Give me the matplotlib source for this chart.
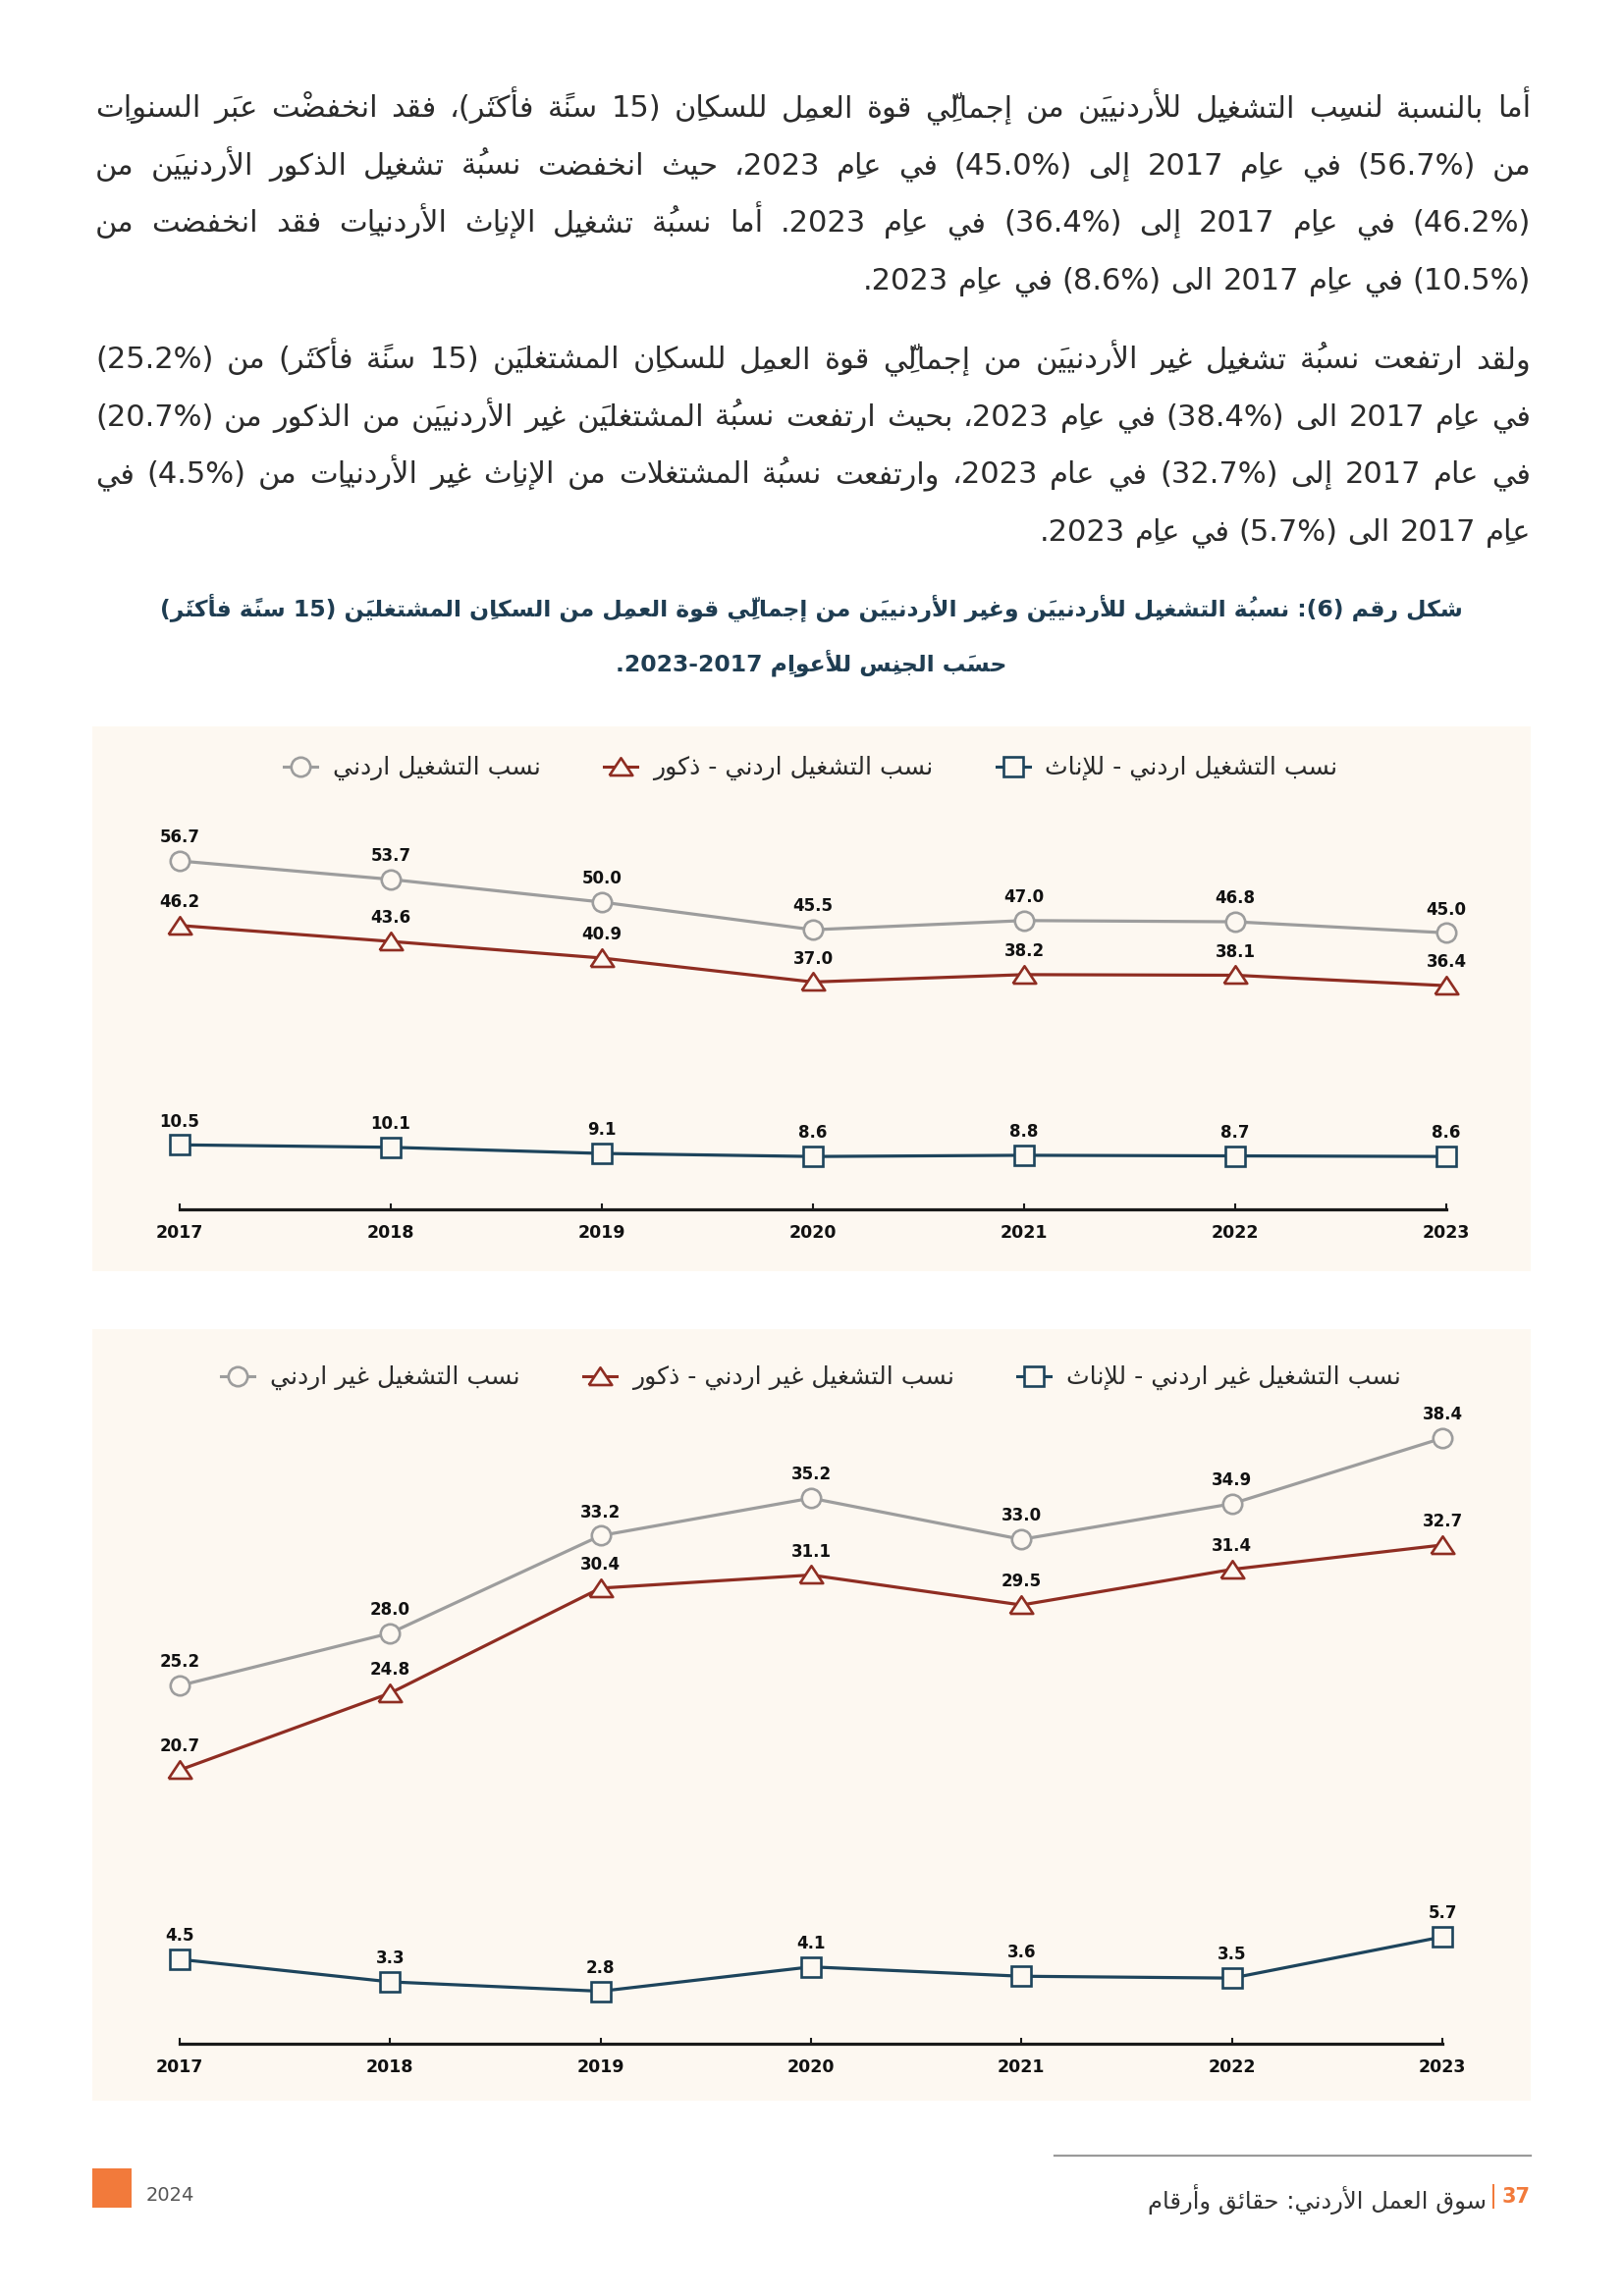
import matplotlib
matplotlib.use('Agg')
import matplotlib.pyplot as plt
from matplotlib.lines import Line2D
from matplotlib.patches import Rectangle

plt.rcParams['font.family'] = ['DejaVu Sans']

W, H = 1654, 2339

# ---------------- data ----------------
years = [2017, 2018, 2019, 2020, 2021, 2022, 2023]
jo_total = [56.7, 53.7, 50.0, 45.5, 47.0, 46.8, 45.0]
jo_male = [46.2, 43.6, 40.9, 37.0, 38.2, 38.1, 36.4]
jo_female = [10.5, 10.1, 9.1, 8.6, 8.8, 8.7, 8.6]
nj_total = [25.2, 28.0, 33.2, 35.2, 33.0, 34.9, 38.4]
nj_male = [20.7, 24.8, 30.4, 31.1, 29.5, 31.4, 32.7]
nj_female = [4.5, 3.3, 2.8, 4.1, 3.6, 3.5, 5.7]

legend_jo = ['نسب التشغيل اردني', 'نسب التشغيل اردني - ذكور', 'نسب التشغيل اردني - للإناث']
legend_nj = ['نسب التشغيل غير اردني', 'نسب التشغيل غير اردني - ذكور', 'نسب التشغيل غير اردني - للإناث']

par1 = [
    'أما بالنسبة لنسبِ التشغيلِ للأردنيينَ من إجماليِّ قوةِ العملِ للسكانِ (15 سنةً فأكثرَ)، فقد انخفضتْ عبرَ السنواتِ',
    'من (56.7%) في عامِ 2017 إلى (45.0%) في عامِ 2023، حيث انخفضت نسبةُ تشغيلِ الذكورِ الأردنيينَ من',
    '(46.2%) في عامِ 2017 إلى (36.4%) في عامِ 2023. أما نسبةُ تشغيلِ الإناثِ الأردنياتِ فقد انخفضت من',
    '(10.5%) في عامِ 2017 الى (8.6%) في عامِ 2023.',
]
par2 = [
    'ولقد ارتفعت نسبةُ تشغيلِ غيرِ الأردنيينَ من إجماليِّ قوةِ العملِ للسكانِ المشتغلينَ (15 سنةً فأكثرَ) من (25.2%)',
    'في عامِ 2017 الى (38.4%) في عامِ 2023، بحيث ارتفعت نسبةُ المشتغلينَ غيرِ الأردنيينَ من الذكورِ من (20.7%)',
    'في عام 2017 إلى (32.7%) في عام 2023، وارتفعت نسبةُ المشتغلات من الإناثِ غيرِ الأردنياتِ من (4.5%) في',
    'عامِ 2017 الى (5.7%) في عامِ 2023.',
]
title = [
    'شكل رقم (6): نسبةُ التشغيلِ للأردنيينَ وغيرِ الأردنيينَ من إجماليِّ قوةِ العملِ من السكانِ المشتغلينَ (15 سنةً فأكثرَ)',
    'حسبَ الجنسِ للأعوامِ 2017-2023.',
]
footer_text = 'سوق العمل الأردني: حقائق وأرقام'
footer_page = '37'
footer_year = '2024'

# ---------------- minimal arabic shaping / bidi ----------------
def dual(b):
    return (b, b + 1, b + 2, b + 3)


def right(b):
    return (b, b + 1, None, None)


FORMS = {
    '\u0621': (0xFE80, None, None, None),
    '\u0622': right(0xFE81), '\u0623': right(0xFE83), '\u0624': right(0xFE85),
    '\u0625': right(0xFE87), '\u0626': dual(0xFE89), '\u0627': right(0xFE8D),
    '\u0628': dual(0xFE8F), '\u0629': right(0xFE93), '\u062A': dual(0xFE95),
    '\u062B': dual(0xFE99), '\u062C': dual(0xFE9D), '\u062D': dual(0xFEA1),
    '\u062E': dual(0xFEA5), '\u062F': right(0xFEA9), '\u0630': right(0xFEAB),
    '\u0631': right(0xFEAD), '\u0632': right(0xFEAF), '\u0633': dual(0xFEB1),
    '\u0634': dual(0xFEB5), '\u0635': dual(0xFEB9), '\u0636': dual(0xFEBD),
    '\u0637': dual(0xFEC1), '\u0638': dual(0xFEC5), '\u0639': dual(0xFEC9),
    '\u063A': dual(0xFECD), '\u0641': dual(0xFED1), '\u0642': dual(0xFED5),
    '\u0643': dual(0xFED9), '\u0644': dual(0xFEDD), '\u0645': dual(0xFEE1),
    '\u0646': dual(0xFEE5), '\u0647': dual(0xFEE9), '\u0648': right(0xFEED),
    '\u0649': right(0xFEEF), '\u064A': dual(0xFEF1),
}
LAM_ALEF = {'\u0622': (0xFEF5, 0xFEF6), '\u0623': (0xFEF7, 0xFEF8),
            '\u0625': (0xFEF9, 0xFEFA), '\u0627': (0xFEFB, 0xFEFC)}
MIRROR = {'(': ')', ')': '(', '[': ']', ']': '['}


def is_mark(c):
    return '\u064B' <= c <= '\u0652' or c == '\u0670'


def is_arabic(c):
    return c in FORMS or c == '\u0640' or is_mark(c)


def shape(run):
    clusters = []
    for c in run:
        if is_mark(c) and clusters:
            clusters[-1][1] += c
        else:
            clusters.append([c, ''])
    merged = []
    j = 0
    while j < len(clusters):
        b, m = clusters[j]
        if b == '\u0644' and j + 1 < len(clusters) and clusters[j + 1][0] in LAM_ALEF:
            merged.append(['LA' + clusters[j + 1][0], m + clusters[j + 1][1]])
            j += 2
        else:
            merged.append([b, m])
            j += 1

    def joins_next(b):
        return b == '\u0640' or (b in FORMS and FORMS[b][2] is not None)

    def joinable(b):
        return b == '\u0640' or b in FORMS or b.startswith('LA')

    out = []
    for j, (b, m) in enumerate(merged):
        prev = merged[j - 1][0] if j > 0 else None
        nxt = merged[j + 1][0] if j + 1 < len(merged) else None
        cp = prev is not None and joins_next(prev)
        if b.startswith('LA'):
            g = chr(LAM_ALEF[b[2]][1 if cp else 0])
        elif b in FORMS:
            f = FORMS[b]
            cn = f[2] is not None and nxt is not None and joinable(nxt)
            if cp and cn:
                g = chr(f[3])
            elif cp and f[1]:
                g = chr(f[1])
            elif cn:
                g = chr(f[2])
            else:
                g = chr(f[0])
        else:
            g = b
        out.append(g + m)
    return ''.join(reversed(out))


def visual(token):
    kinds = []
    for i, c in enumerate(token):
        if is_arabic(c):
            kinds.append('A')
        elif c.isdigit():
            kinds.append('N')
        elif c in '.,' and 0 < i < len(token) - 1 and token[i - 1].isdigit() and token[i + 1].isdigit():
            kinds.append('N')
        elif c == '%' and ((i > 0 and token[i - 1].isdigit()) or (i < len(token) - 1 and token[i + 1].isdigit())):
            kinds.append('N')
        else:
            kinds.append('P')
    runs = []
    for c, k in zip(token, kinds):
        if runs and runs[-1][0] == k and k != 'P':
            runs[-1][1] += c
        else:
            runs.append([k, c])
    parts = []
    for k, s in reversed(runs):
        if k == 'A':
            parts.append(shape(s))
        elif k == 'N':
            parts.append(s)
        else:
            parts.append(MIRROR.get(s, s))
    return ''.join(parts)


def vline(text):
    return ' '.join(visual(w) for w in reversed(text.split(' ')))


# ---------------- figure ----------------
fig = plt.figure(figsize=(W / 100, H / 100), dpi=100)
fig.patch.set_facecolor('white')
renderer = fig.canvas.get_renderer()


def tw(s, size, weight='normal'):
    t = fig.text(0, 0, s, fontsize=size, fontweight=weight)
    w = t.get_window_extent(renderer).width
    t.remove()
    return w


def put(x, y, s, **kw):
    return fig.text(x / W, 1 - y / H, s, **kw)


def add_axes(left, top, right, bottom):
    return fig.add_axes([left / W, 1 - bottom / H, (right - left) / W, (bottom - top) / H])


BODY_C = '#2b2b2b'
TITLE_C = '#1f3d52'
PANEL_C = '#fdf8f1'
GREY = '#9d9d9d'
RED = '#8f2d22'
NAVY = '#1d445c'
ORANGE = '#f27a3b'

# ---------------- body paragraphs (justified, right to left) ----------------
L_EDGE, R_EDGE = 97, 1559
LINE = 58.6
all_lines = par1 + par2
base = 20
sz_last = base * 706 / tw(vline(par1[-1]), base)
sz_wide = min(base * (R_EDGE - L_EDGE) / tw(vline(l), base) for l in all_lines)
body_size = min(sz_last, sz_wide * 0.985)
space_w = tw('a a', body_size) - tw('aa', body_size)


def draw_par(lines, y0):
    for i, line in enumerate(lines):
        y = y0 + i * LINE
        vis = [visual(w) for w in line.split(' ')]
        ws = [tw(v, body_size) for v in vis]
        if i == len(lines) - 1:
            gap = space_w
        else:
            gap = (R_EDGE - L_EDGE - sum(ws)) / (len(ws) - 1)
        x = R_EDGE
        for v, w in zip(vis, ws):
            put(x, y, v, ha='right', va='baseline', fontsize=body_size, color=BODY_C)
            x -= w + gap


draw_par(par1, 119)
draw_par(par2, 375)

# ---------------- title ----------------
t_size = 20 * 1325 / tw(vline(title[0]), 20, 'bold')
put(826, 628, vline(title[0]), ha='center', va='baseline', fontsize=t_size,
    fontweight='bold', color=TITLE_C)
put(826, 683, vline(title[1]), ha='center', va='baseline', fontsize=t_size,
    fontweight='bold', color=TITLE_C)

# ---------------- panels ----------------
for top, bottom in [(740, 1295), (1354, 2140)]:
    fig.patches.append(Rectangle((94 / W, 1 - bottom / H), (1559 - 94) / W, (bottom - top) / H,
                                 transform=fig.transFigure, facecolor=PANEL_C,
                                 edgecolor='none', zorder=-5))

tri = [(-1, -0.72), (1, -0.72), (0, 0.78), (-1, -0.72)]
styles = [
    dict(color=GREY, marker='o', markersize=14),
    dict(color=RED, marker=tri, markersize=17),
    dict(color=NAVY, marker='s', markersize=14),
]


def series(ax, vals, st):
    ax.plot(years, vals, color=st['color'], lw=2.3, marker=st['marker'],
            markersize=st['markersize'], markerfacecolor=PANEL_C,
            markeredgecolor=st['color'], markeredgewidth=1.9, clip_on=False, zorder=3)
    for x, v in zip(years, vals):
        ax.annotate(f'{v:.1f}', (x, v), xytext=(0, 13.5), textcoords='offset points',
                    ha='center', va='baseline', fontsize=12, fontweight='bold',
                    color='#111111', annotation_clip=False)


def style_axes(ax):
    ax.set_facecolor('none')
    ax.set_xlim(2017, 2023)
    for s in ['left', 'right', 'top']:
        ax.spines[s].set_visible(False)
    ax.spines['bottom'].set_linewidth(2.3)
    ax.spines['bottom'].set_color('#1a1a1a')
    ax.set_yticks([])
    ax.set_xticks(years)
    ax.set_xticklabels([str(y) for y in years], fontsize=12.5, fontweight='bold',
                       color='#111111')
    ax.tick_params(axis='x', direction='in', length=4, width=1.5, color='#1a1a1a', pad=11)


leg_size = 20 * 298 / tw(vline(legend_jo[2]), 20)


def draw_legend(labels, y):
    handle, hgap, cgap = 34, 16, 64
    widths = [tw(vline(l), leg_size) for l in labels]
    total = sum(widths) + len(labels) * (handle + hgap) + (len(labels) - 1) * cgap
    x = 826 - total / 2
    for lab, w, st in zip(labels, widths, styles):
        fig.lines.append(Line2D([x / W, (x + handle) / W], [1 - y / H, 1 - y / H],
                                transform=fig.transFigure, color=st['color'], lw=2.2))
        fig.lines.append(Line2D([(x + handle / 2) / W], [1 - y / H], transform=fig.transFigure,
                                marker=st['marker'], markersize=st['markersize'],
                                markerfacecolor=PANEL_C, markeredgecolor=st['color'],
                                markeredgewidth=1.9, lw=0))
        put(x + handle + hgap, y + 1, vline(lab), ha='left', va='center',
            fontsize=leg_size, color='#2a2a2a')
        x += handle + hgap + w + cgap


# ---------------- chart 1: Jordanians ----------------
ax1 = add_axes(183, 1232 - 62 * 6.26, 1473, 1232)
style_axes(ax1)
ax1.set_ylim(0, 62)
series(ax1, jo_total, styles[0])
series(ax1, jo_male, styles[1])
series(ax1, jo_female, styles[2])
draw_legend(legend_jo, 781)

# ---------------- chart 2: non-Jordanians ----------------
ax2 = add_axes(183, 2082 - 40 * 19.1, 1469, 2082)
style_axes(ax2)
ax2.set_ylim(0, 40)
ax2b = ax2.twinx()
ax2b.set_ylim(6.1, 46.1)
ax2b.set_facecolor('none')
for s in ['left', 'right', 'top', 'bottom']:
    ax2b.spines[s].set_visible(False)
ax2b.set_yticks([])
series(ax2b, nj_total, styles[0])
series(ax2b, nj_male, styles[1])
series(ax2, nj_female, styles[2])
draw_legend(legend_nj, 1402)

# ---------------- footer ----------------
fig.lines.append(Line2D([1074 / W, 1559 / W], [1 - 2196 / H, 1 - 2196 / H],
                        transform=fig.transFigure, color='#9a9a9a', lw=1.6))
fig.patches.append(Rectangle((94 / W, 1 - 2249 / H), 40 / W, 40 / H, transform=fig.transFigure,
                             facecolor=ORANGE, edgecolor='none'))
put(149, 2237, footer_year, ha='left', va='center', fontsize=14, color='#555555')
put(1559, 2238, footer_page, ha='right', va='center', fontsize=15, fontweight='bold',
    color=ORANGE)
put(1525, 2238, '|', ha='right', va='center', fontsize=17, color=ORANGE)
f_size = 20 * 345 / tw(vline(footer_text), 20)
put(1514, 2240, vline(footer_text), ha='right', va='center', fontsize=f_size, color='#333333')

fig.savefig('out.png', dpi=100, facecolor='white')
